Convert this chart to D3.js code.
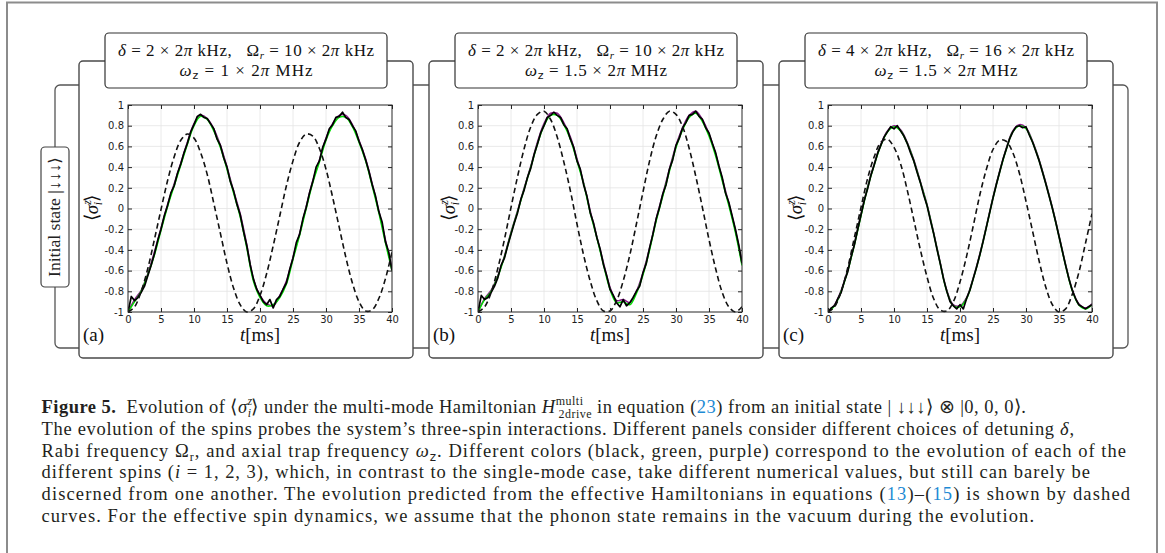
<!DOCTYPE html>
<html>
<head>
<meta charset="utf-8">
<script src="https://cdn.jsdelivr.net/npm/d3@7"></script>
<style>
  body { margin: 0; background: #fff; }
  text { white-space: pre; }
</style>
</head>
<body>
<script>
// time grids (ms)
const tFine = d3.range(0, 40.5, 0.5);
const tCoarse = d3.range(0, 41, 1);

const xTicks = [0, 5, 10, 15, 20, 25, 30, 35, 40];
const yTicks = [-1, -0.8, -0.6, -0.4, -0.2, 0, 0.2, 0.4, 0.6, 0.8, 1];

// panel parameters (for the titles)
const deltaVals = [2, 2, 4];
const omegaRVals = [10, 10, 16];
const omegaZVals = [1, 1.5, 1.5];
const panelLabels = ['(a)', '(b)', '(c)'];

// ---- panel (a) ----
const blackA = [-1.00,-0.85,-0.89,-0.86,-0.81,-0.75,-0.65,-0.55,-0.44,-0.31,-0.20,-0.07,0.03,0.15,0.22,0.34,0.43,0.54,0.63,0.74,
  0.81,0.89,0.91,0.88,0.87,0.82,0.77,0.67,0.61,0.49,0.40,0.26,0.17,0.04,-0.06,-0.22,-0.36,-0.54,-0.68,-0.78,
  -0.84,-0.90,-0.93,-0.88,-0.96,-0.88,-0.85,-0.78,-0.72,-0.59,-0.48,-0.33,-0.25,-0.10,0.01,0.15,0.26,0.40,0.46,0.59,
  0.67,0.77,0.81,0.88,0.89,0.93,0.88,0.86,0.80,0.75,0.65,0.57,0.47,0.36,0.23,0.12,-0.03,-0.13,-0.32,-0.42,-0.60];
const greenA = [-1.00,-0.90,-0.80,-0.64,-0.45,-0.21,0.02,0.22,0.42,0.62,0.80,0.89,0.86,0.75,0.59,0.38,0.15,-0.08,-0.38,-0.70,
  -0.86,-0.94,-0.93,-0.86,-0.73,-0.49,-0.26,0.00,0.25,0.45,0.66,0.80,0.88,0.88,0.79,0.64,0.46,0.22,-0.04,-0.33,-0.60];
const purpleA = [-1.00,-0.88,-0.79,-0.63,-0.42,-0.19,0.04,0.24,0.44,0.64,0.82,0.90,0.87,0.77,0.61,0.40,0.17,-0.05,-0.35,-0.68,
  -0.84,-0.92,-0.94,-0.84,-0.70,-0.47,-0.24,0.02,0.27,0.47,0.68,0.82,0.90,0.90,0.81,0.66,0.48,0.24,-0.02,-0.30,-0.58];
const dashedA = [-1.00,-0.95,-0.80,-0.58,-0.30,-0.01,0.27,0.50,0.66,0.72,0.68,0.54,0.33,0.05,-0.24,-0.53,-0.77,-0.93,-1.00,-0.97,
  -0.84,-0.63,-0.36,-0.07,0.22,0.46,0.64,0.72,0.70,0.58,0.38,0.11,-0.18,-0.47,-0.72,-0.90,-0.99,-0.98,-0.87,-0.68,-0.42];

// ---- panel (b) ----
const blackB = [-1.00,-0.84,-0.88,-0.86,-0.81,-0.75,-0.67,-0.55,-0.48,-0.36,-0.25,-0.14,-0.04,0.09,0.18,0.30,0.39,0.52,0.62,0.73,
  0.80,0.88,0.90,0.93,0.90,0.88,0.81,0.77,0.67,0.59,0.46,0.38,0.23,0.12,-0.04,-0.14,-0.28,-0.39,-0.54,-0.65,
  -0.78,-0.84,-0.91,-0.95,-0.88,-0.94,-0.91,-0.86,-0.80,-0.75,-0.62,-0.53,-0.38,-0.25,-0.10,0.01,0.14,0.23,0.38,0.47,
  0.61,0.68,0.78,0.83,0.90,0.91,0.94,0.89,0.86,0.78,0.73,0.63,0.54,0.41,0.30,0.15,0.06,-0.07,-0.20,-0.35,-0.53];
const greenB = [-1.00,-0.88,-0.80,-0.66,-0.47,-0.24,-0.03,0.19,0.40,0.62,0.80,0.90,0.90,0.81,0.67,0.46,0.24,-0.04,-0.28,-0.54,
  -0.78,-0.91,-0.90,-0.93,-0.82,-0.64,-0.40,-0.12,0.12,0.36,0.59,0.76,0.88,0.92,0.84,0.70,0.51,0.27,0.03,-0.23,-0.55];
const purpleB = [-1.00,-0.87,-0.79,-0.65,-0.46,-0.23,-0.02,0.20,0.41,0.64,0.82,0.92,0.92,0.83,0.69,0.48,0.25,-0.02,-0.27,-0.52,
  -0.76,-0.89,-0.88,-0.91,-0.80,-0.62,-0.38,-0.10,0.14,0.38,0.61,0.78,0.90,0.94,0.86,0.72,0.53,0.29,0.05,-0.21,-0.52];
const dashedB = [-1.00,-0.95,-0.81,-0.58,-0.30,0.01,0.31,0.58,0.79,0.91,0.94,0.86,0.69,0.45,0.17,-0.15,-0.45,-0.70,-0.89,-0.99,
  -0.99,-0.89,-0.70,-0.45,-0.15,0.16,0.46,0.70,0.86,0.94,0.91,0.79,0.58,0.31,0.01,-0.30,-0.58,-0.81,-0.95,-1.00,-0.95];

// ---- panel (c) ----
const blackC = [-1.00,-0.96,-0.94,-0.87,-0.81,-0.70,-0.61,-0.47,-0.35,-0.20,-0.06,0.08,0.19,0.32,0.42,0.53,0.61,0.69,0.74,0.79,
  0.77,0.80,0.75,0.70,0.63,0.54,0.46,0.35,0.25,0.13,0.03,-0.11,-0.24,-0.39,-0.53,-0.68,-0.80,-0.90,-0.94,-0.97,
  -0.93,-0.97,-0.87,-0.79,-0.68,-0.57,-0.45,-0.32,-0.18,-0.04,0.10,0.23,0.35,0.47,0.57,0.67,0.74,0.79,0.80,0.78,
  0.79,0.71,0.64,0.55,0.46,0.35,0.24,0.12,0.00,-0.13,-0.27,-0.41,-0.55,-0.68,-0.79,-0.87,-0.93,-0.95,-0.97,-0.95,-0.93];
const greenC = [-1.00,-0.94,-0.80,-0.60,-0.35,-0.07,0.20,0.42,0.61,0.74,0.79,0.75,0.63,0.46,0.25,0.03,-0.24,-0.53,-0.80,-0.94,
  -0.95,-0.87,-0.68,-0.45,-0.18,0.10,0.35,0.57,0.74,0.80,0.77,0.64,0.46,0.24,0.00,-0.27,-0.55,-0.79,-0.93,-0.97,-0.93];
const purpleC = [-1.00,-0.93,-0.79,-0.59,-0.34,-0.06,0.21,0.43,0.62,0.75,0.80,0.76,0.64,0.47,0.26,0.04,-0.23,-0.52,-0.79,-0.93,
  -0.94,-0.86,-0.67,-0.44,-0.17,0.11,0.36,0.58,0.75,0.81,0.78,0.65,0.47,0.25,0.01,-0.26,-0.54,-0.78,-0.92,-0.96,-0.92];
const dashedC = [-1.00,-0.95,-0.80,-0.57,-0.28,0.01,0.29,0.50,0.64,0.67,0.59,0.43,0.18,-0.11,-0.40,-0.66,-0.87,-0.98,-0.99,-0.90,
  -0.71,-0.46,-0.17,0.13,0.38,0.57,0.66,0.65,0.54,0.34,0.07,-0.22,-0.51,-0.76,-0.93,-1.00,-0.97,-0.83,-0.62,-0.34,-0.05];

const series = [
  {black: blackA, green: greenA, purple: purpleA, dashed: dashedA},
  {black: blackB, green: greenB, purple: purpleB, dashed: dashedB},
  {black: blackC, green: greenC, purple: purpleC, dashed: dashedC}
];

// layout
const layout = [
  {frameX: 79, plotX: 128, ylabX: 92, line2W: 133},
  {frameX: 429, plotX: 478, ylabX: 449, line2W: 142},
  {frameX: 779, plotX: 828, ylabX: 796, line2W: 143}
];
const plotW = 264, plotTop = 105, plotBottom = 312;
const serif = 'Liberation Serif, Times New Roman, serif';
const sans = 'DejaVu Sans, Verdana, sans-serif';

const svg = d3.select('body').append('svg')
  .attr('width', 1165)
  .attr('height', 553)
  .attr('font-family', serif);

// writes a list of styled pieces into a text element
const rich = (sel, parts) => {
  let shift = 0;
  parts.forEach((p) => {
    const s = p.shift || 0;
    const ts = sel.append('tspan').text(p.t);
    if (s !== shift) ts.attr('dy', s - shift);
    if (p.dx) ts.attr('dx', p.dx);
    if (p.i) ts.attr('font-style', 'italic');
    if (p.b) ts.attr('font-weight', 'bold');
    if (p.size) ts.attr('font-size', p.size);
    if (p.fill) ts.attr('fill', p.fill);
    if (p.fam) ts.attr('font-family', p.fam);
    shift = s;
  });
};

// outer figure border
svg.append('path')
  .attr('d', 'M7,553 V2.5 H1157 V553')
  .attr('fill', 'none')
  .attr('stroke', '#8c8c8c')
  .attr('stroke-width', 2);

// big box holding the three panels
svg.append('rect')
  .attr('x', 55).attr('y', 85).attr('width', 1073).attr('height', 263)
  .attr('rx', 5)
  .attr('fill', 'none').attr('stroke', '#555').attr('stroke-width', 1.3);

// initial state label
svg.append('rect')
  .attr('x', 41).attr('y', 147).attr('width', 28).attr('height', 140)
  .attr('rx', 4)
  .attr('fill', '#fff').attr('stroke', '#444').attr('stroke-width', 1.2);
const initText = svg.append('text')
  .attr('transform', 'translate(60,217) rotate(-90)')
  .attr('text-anchor', 'middle')
  .attr('font-size', 16)
  .attr('fill', '#222')
  .attr('textLength', 120)
  .attr('lengthAdjust', 'spacingAndGlyphs');
rich(initText, [{t: 'Initial state |↓↓↓⟩'}]);

layout.forEach((L, k) => {
  const S = series[k];
  const g = svg.append('g');

  // panel frame
  g.append('rect')
    .attr('x', L.frameX).attr('y', 61).attr('width', 334).attr('height', 297)
    .attr('rx', 4)
    .attr('fill', '#fff').attr('stroke', '#4a4a4a').attr('stroke-width', 1.4);

  // title box
  const tx = L.frameX + 26;
  g.append('rect')
    .attr('x', tx).attr('y', 33).attr('width', 282).attr('height', 55)
    .attr('rx', 4)
    .attr('fill', '#fff').attr('stroke', '#333').attr('stroke-width', 1.2);
  const t1 = g.append('text')
    .attr('x', tx + 141).attr('y', 56)
    .attr('text-anchor', 'middle').attr('font-size', 17).attr('fill', '#111')
    .attr('textLength', 256).attr('lengthAdjust', 'spacing');
  rich(t1, [
    {t: 'δ', i: true}, {t: ' = ' + deltaVals[k] + ' × 2'}, {t: 'π', i: true}, {t: ' kHz,   Ω'},
    {t: 'r', i: true, shift: 3, size: 11}, {t: ' = ' + omegaRVals[k] + ' × 2', shift: 0}, {t: 'π', i: true}, {t: ' kHz'}
  ]);
  const t2 = g.append('text')
    .attr('x', tx + 141).attr('y', 76)
    .attr('text-anchor', 'middle').attr('font-size', 17).attr('fill', '#111')
    .attr('textLength', L.line2W).attr('lengthAdjust', 'spacing');
  rich(t2, [
    {t: 'ω', i: true}, {t: 'z', shift: 3, size: 11, fam: sans}, {t: ' = ' + omegaZVals[k] + ' × 2', shift: 0},
    {t: 'π', i: true}, {t: ' MHz'}
  ]);

  // scales
  const x = d3.scaleLinear().domain([0, 40]).range([L.plotX, L.plotX + plotW]);
  const y = d3.scaleLinear().domain([-1, 1]).range([plotBottom, plotTop]);

  // grid
  g.append('g').selectAll('line').data(xTicks.slice(1, -1)).join('line')
    .attr('x1', (d) => x(d)).attr('x2', (d) => x(d))
    .attr('y1', plotTop).attr('y2', plotBottom)
    .attr('stroke', '#e4e4e4').attr('stroke-width', 0.8);
  g.append('g').selectAll('line').data(yTicks.slice(1, -1)).join('line')
    .attr('x1', L.plotX).attr('x2', L.plotX + plotW)
    .attr('y1', (d) => y(d)).attr('y2', (d) => y(d))
    .attr('stroke', '#e4e4e4').attr('stroke-width', 0.8);

  // curves
  const clipId = 'clip' + k;
  g.append('clipPath').attr('id', clipId)
    .append('rect')
    .attr('x', L.plotX).attr('y', plotTop - 1)
    .attr('width', plotW).attr('height', plotBottom - plotTop + 2);
  const curves = g.append('g').attr('clip-path', 'url(#' + clipId + ')');

  const coarseLine = d3.line()
    .x((d, i) => x(tCoarse[i])).y((d) => y(d))
    .curve(d3.curveCatmullRom);
  const fineLine = d3.line()
    .x((d, i) => x(tFine[i])).y((d) => y(d));

  curves.append('path').attr('d', coarseLine(S.purple))
    .attr('fill', 'none').attr('stroke', '#8b1a8b').attr('stroke-width', 1.5);
  curves.append('path').attr('d', coarseLine(S.green))
    .attr('fill', 'none').attr('stroke', '#00e000').attr('stroke-width', 1.5);
  curves.append('path').attr('d', fineLine(S.black))
    .attr('fill', 'none').attr('stroke', '#000').attr('stroke-width', 1.7)
    .attr('stroke-linejoin', 'round');
  curves.append('path').attr('d', coarseLine(S.dashed))
    .attr('fill', 'none').attr('stroke', '#111').attr('stroke-width', 1.6)
    .attr('stroke-dasharray', '5.5,3.5');

  // axes, ticks pointing inward
  const fmt = (d) => String(+d.toFixed(1));
  const styleAxis = (ax) => {
    ax.select('.domain').remove();
    ax.selectAll('line').attr('stroke', '#262626');
    ax.selectAll('text').attr('font-family', sans).attr('font-size', 10).attr('fill', '#1e1e1e');
  };
  g.append('g').attr('transform', 'translate(0,' + plotBottom + ')')
    .call(d3.axisBottom(x).tickValues(xTicks).tickSize(-4).tickPadding(4).tickFormat(fmt))
    .call(styleAxis);
  g.append('g').attr('transform', 'translate(0,' + plotTop + ')')
    .call(d3.axisTop(x).tickValues(xTicks).tickSize(-4).tickFormat(''))
    .call(styleAxis);
  g.append('g').attr('transform', 'translate(' + L.plotX + ',0)')
    .call(d3.axisLeft(y).tickValues(yTicks).tickSize(-4).tickPadding(4).tickFormat(fmt))
    .call(styleAxis);
  g.append('g').attr('transform', 'translate(' + (L.plotX + plotW) + ',0)')
    .call(d3.axisRight(y).tickValues(yTicks).tickSize(-4).tickFormat(''))
    .call(styleAxis);

  g.append('rect')
    .attr('x', L.plotX).attr('y', plotTop).attr('width', plotW).attr('height', plotBottom - plotTop)
    .attr('fill', 'none').attr('stroke', '#262626').attr('stroke-width', 1);

  // axis labels
  const xl = g.append('text')
    .attr('x', L.plotX + plotW / 2).attr('y', 341)
    .attr('text-anchor', 'middle').attr('font-size', 19).attr('fill', '#111');
  rich(xl, [{t: 't', i: true}, {t: '[ms]'}]);

  const yl = g.append('text')
    .attr('transform', 'translate(' + (L.ylabX + 6) + ',208) rotate(-90)')
    .attr('text-anchor', 'middle').attr('font-size', 19).attr('fill', '#111');
  rich(yl, [{t: '⟨'}, {t: 'σ', i: true}, {t: 'z', i: true, shift: -7, size: 12},
    {t: 'i', i: true, shift: 4, size: 12, dx: -5}, {t: '⟩', shift: 0}]);

  g.append('text')
    .attr('x', L.frameX + 4).attr('y', 341)
    .attr('font-size', 19).attr('fill', '#111')
    .text(panelLabels[k]);
});

// caption
const capX = 41.5;
const capEnds = [1026, 1074, 1126, 1090, 1130, 1034];
const blue = '#1d8ad4';
const capLines = [
  [{t: 'Figure 5.', b: true}, {t: '  Evolution of ⟨'}, {t: 'σ', i: true}, {t: 'z', i: true, shift: -8, size: 12},
    {t: 'i', i: true, shift: 4, size: 12, dx: -5}, {t: '⟩ under the multi-mode Hamiltonian '}, {t: 'H', i: true},
    {t: 'multi', shift: -8, size: 12}, {t: '2drive', shift: 5, size: 12, dx: -25},
    {t: ' in equation ('}, {t: '23', fill: blue}, {t: ') from an initial state | ↓↓↓⟩ ⊗ |0, 0, 0⟩.'}],
  [{t: 'The evolution of the spins probes the system’s three-spin interactions. Different panels consider different choices of detuning '},
    {t: 'δ', i: true}, {t: ','}],
  [{t: 'Rabi frequency Ω'}, {t: 'r', shift: 4, size: 12}, {t: ', and axial trap frequency '}, {t: 'ω', i: true},
    {t: 'z', shift: 4, size: 12, fam: sans}, {t: '. Different colors (black, green, purple) correspond to the evolution of each of the'}],
  [{t: 'different spins ('}, {t: 'i', i: true}, {t: ' = 1, 2, 3), which, in contrast to the single-mode case, take different numerical values, but still can barely be'}],
  [{t: 'discerned from one another. The evolution predicted from the effective Hamiltonians in equations ('},
    {t: '13', fill: blue}, {t: ')–('}, {t: '15', fill: blue}, {t: ') is shown by dashed'}],
  [{t: 'curves. For the effective spin dynamics, we assume that the phonon state remains in the vacuum during the evolution.'}]
];
capLines.forEach((parts, i) => {
  const tl = svg.append('text')
    .attr('x', capX).attr('y', 413 + i * 21.8)
    .attr('font-size', 18.5).attr('fill', '#231f20')
    .attr('textLength', capEnds[i] - capX)
    .attr('lengthAdjust', 'spacing');
  rich(tl, parts);
});
</script>
</body>
</html>
